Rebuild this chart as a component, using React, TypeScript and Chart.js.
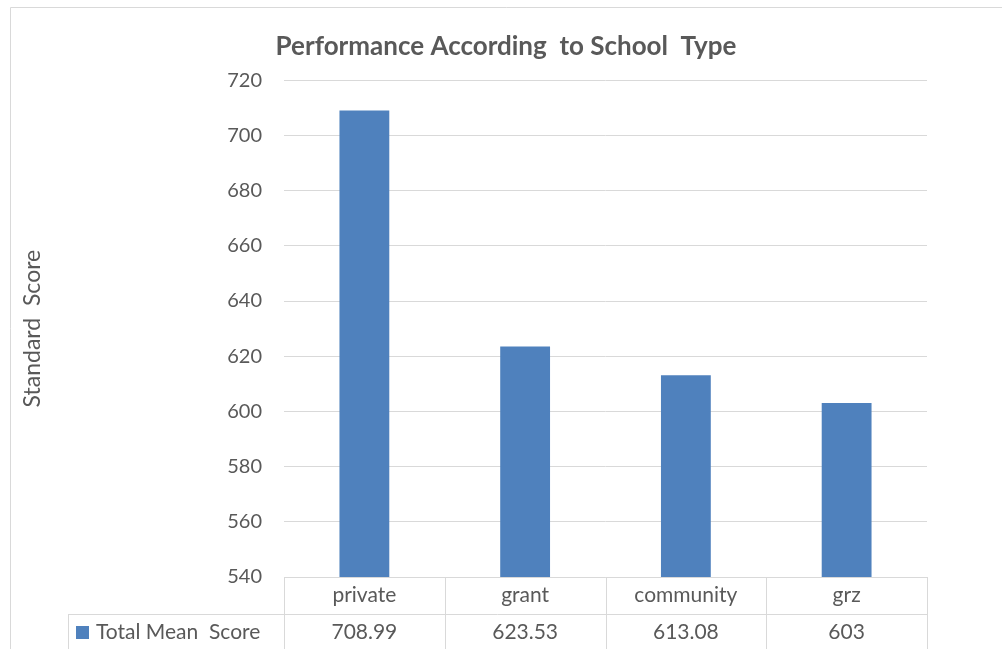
import React, { useEffect, useRef } from "react";
import { Chart, registerables } from "chart.js";

Chart.register(...registerables);

const categories = ["private", "grant", "community", "grz"];
const meanScores = [708.99, 623.53, 613.08, 603];
const valueLabels = ["708.99", "623.53", "613.08", "603"];
const seriesName = "Total Mean  Score";
const chartTitle = "Performance According  to School  Type";
const yAxisTitle = "Standard  Score";
const yMin = 540;
const yMax = 720;
const yStep = 20;

const FONT = "Lato, 'Open Sans', sans-serif";
const TEXT = "#595959";
const LINE = "#d9d9d9";
const BAR = "#4F81BD";

const tablePlugin = {
  id: "dataTable",
  beforeDraw(chart: any) {
    const ctx = chart.ctx;
    ctx.save();
    ctx.strokeStyle = LINE;
    ctx.lineWidth = 1;
    ctx.beginPath();
    ctx.moveTo(10.5, chart.height);
    ctx.lineTo(10.5, 7.5);
    ctx.lineTo(chart.width, 7.5);
    ctx.stroke();
    ctx.restore();
  },
  afterDraw(chart: any) {
    const ctx = chart.ctx;
    const area = chart.chartArea;
    const n = categories.length;
    const colW = (area.right - area.left) / n;
    const rowH = 37;
    const top = area.bottom;
    const mid = top + rowH;
    const legendLeft = 68;
    ctx.save();
    ctx.strokeStyle = LINE;
    ctx.lineWidth = 1;
    ctx.beginPath();
    ctx.moveTo(area.left, Math.round(top) + 0.5);
    ctx.lineTo(area.right, Math.round(top) + 0.5);
    ctx.moveTo(legendLeft, Math.round(mid) + 0.5);
    ctx.lineTo(area.right, Math.round(mid) + 0.5);
    for (let i = 0; i <= n; i++) {
      const x = Math.round(area.left + i * colW) + 0.5;
      ctx.moveTo(x, top);
      ctx.lineTo(x, chart.height);
    }
    ctx.moveTo(legendLeft + 0.5, mid);
    ctx.lineTo(legendLeft + 0.5, chart.height);
    ctx.stroke();

    ctx.fillStyle = TEXT;
    ctx.font = `21px ${FONT}`;
    ctx.textAlign = "center";
    ctx.textBaseline = "middle";
    const xs = chart.scales.x;
    for (let i = 0; i < n; i++) {
      const cx = xs.getPixelForValue(i);
      ctx.fillText(categories[i], cx, top + rowH / 2);
      ctx.fillText(valueLabels[i], cx, mid + rowH / 2);
    }
    ctx.fillStyle = BAR;
    ctx.fillRect(legendLeft + 8, mid + 12, 13, 13);
    ctx.fillStyle = TEXT;
    ctx.textAlign = "left";
    ctx.fillText(seriesName, legendLeft + 28, mid + rowH / 2);
    ctx.restore();
  },
};

export default function App() {
  const ref = useRef<HTMLCanvasElement | null>(null);
  useEffect(() => {
    if (!ref.current) return;
    const chart = new Chart(ref.current, {
      type: "bar",
      data: {
        labels: categories,
        datasets: [
          {
            label: seriesName,
            data: meanScores,
            backgroundColor: BAR,
            categoryPercentage: 1,
            barPercentage: 0.31,
            yAxisID: "y",
          },
        ],
      },
      options: {
        animation: false,
        responsive: false,
        layout: { padding: { left: 10, right: 0, top: 0, bottom: 0 } },
        plugins: {
          legend: { display: false },
          tooltip: { enabled: false },
          title: {
            display: true,
            text: chartTitle,
            color: TEXT,
            font: { family: FONT, size: 26, weight: "bold" },
            padding: { top: 31, bottom: 18 },
          },
        },
        scales: {
          x: {
            grid: { display: false },
            border: { display: false },
            ticks: { display: false },
            afterFit: (s: any) => {
              s.height = 72;
            },
          },
          y: {
            min: yMin,
            max: yMax,
            ticks: {
              stepSize: yStep,
              color: TEXT,
              font: { family: FONT, size: 20 },
              padding: 22,
            },
            grid: { color: LINE, drawTicks: false, lineWidth: 1 },
            border: { display: false },
            title: {
              display: true,
              text: yAxisTitle,
              color: TEXT,
              font: { family: FONT, size: 23 },
              padding: { top: 9, bottom: 0 },
            },
            afterFit: (s: any) => {
              s.width = 274;
            },
          },
          yRight: {
            type: "linear",
            position: "right",
            display: true,
            grid: { display: false },
            border: { display: false },
            ticks: { display: false },
            afterFit: (s: any) => {
              s.width = 75;
            },
          },
        },
      },
      plugins: [tablePlugin],
    });
    return () => chart.destroy();
  }, []);
  return (
    <div style={{ position: "fixed", left: 0, top: 0, width: 1002, height: 649, background: "#fff" }}>
      <canvas ref={ref} width={1002} height={649} style={{ width: 1002, height: 649 }} />
    </div>
  );
}
